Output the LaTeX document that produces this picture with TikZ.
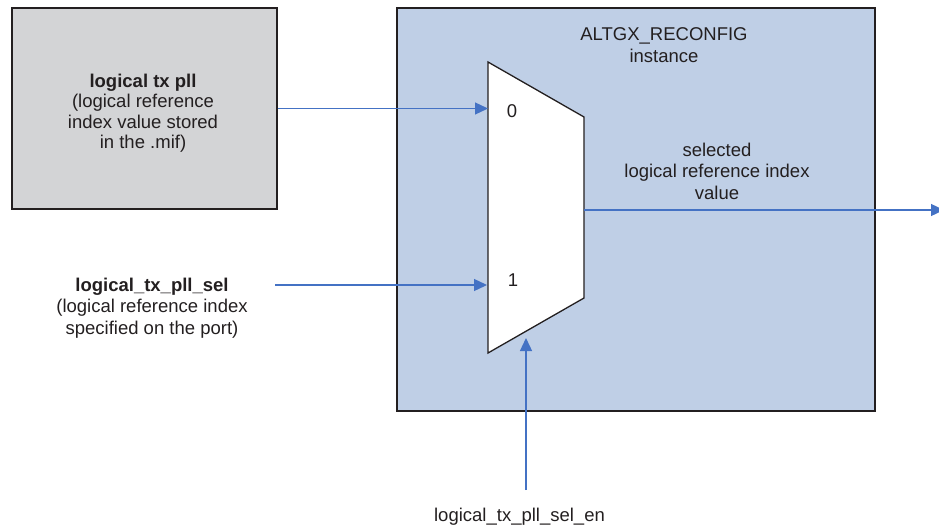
\documentclass[tikz,border=0pt]{standalone}
\usepackage{fontspec}
\setmainfont{Liberation Sans}
\usetikzlibrary{arrows.meta,positioning}
\definecolor{AltBlue}{RGB}{191,207,230}
\definecolor{AltGray}{RGB}{211,212,214}
\definecolor{AltLine}{RGB}{68,114,196}
\definecolor{AltInk}{RGB}{35,31,32}
\tikzset{
  alt/box/.style={
    draw=AltInk,
    line width=1.3pt,
    inner sep=0pt
  },
  alt/mux/.style={draw=AltInk, line width=1.3pt, fill=white, line join=miter},
  alt/label/.style={align=center, text=AltInk, inner sep=0pt, font=\fontsize{18.5}{21.5}\selectfont},
  alt/arrow/.style={-{Triangle[length=13pt,width=12pt]}, line width=1.3pt, draw=AltLine}
}
\begin{document}
\begin{tikzpicture}[x=1pt,y=-1pt]
  \useasboundingbox (0,0) rectangle (939,527);
  % boxes
  \node[alt/box,fill=AltGray,minimum width=265pt,minimum height=201pt] (txpll) at (144.5,108.5) {};
  \node[alt/label,font=\fontsize{18.5}{20.5}\selectfont] (txplltext) at (143,113)
    {\textbf{logical tx pll}\\(logical reference\\index value stored\\in the .mif)};
  \node[alt/box,fill=AltBlue,minimum width=478pt,minimum height=403pt] (reconfig) at (636,209.5) {};
  \node[alt/label] (title) at (664,45) {ALTGX\_RECONFIG\\instance};
  % mux
  \coordinate (muxtl) at (488,62);
  \coordinate (muxtr) at (584,117);
  \coordinate (muxbr) at (584,298);
  \coordinate (muxbl) at (488,353);
  \draw[alt/mux] (muxtl) -- (muxtr) -- (muxbr) -- (muxbl) -- cycle;
  \node[alt/label] (zero) at (512,111.5) {0};
  \node[alt/label] (one) at (513,280.5) {1};
  \coordinate (in0) at (488,108.5);
  \coordinate (in1) at (487,285);
  \coordinate (muxout) at (584,210);
  \coordinate (enpin) at (526,338);
  % labels
  \node[alt/label] (sel) at (152,308)
    {\textbf{logical\_tx\_pll\_sel}\\(logical reference index\\specified on the port)};
  \node[alt/label] (selected) at (717,171) {selected\\logical reference index\\value};
  \node[alt/label] (en) at (519.5,517) {logical\_tx\_pll\_sel\_en};
  \coordinate (selstart) at (275,285);
  \coordinate (enstart) at (526,490);
  \coordinate (outend) at (944,210);
  % connectors
  \draw[alt/arrow] (txpll) -- (in0);
  \draw[alt/arrow] (selstart) -- (in1);
  \draw[alt/arrow] (enstart) -- (enpin);
  \draw[alt/arrow] (muxout) -- (outend);
\end{tikzpicture}
\end{document}
